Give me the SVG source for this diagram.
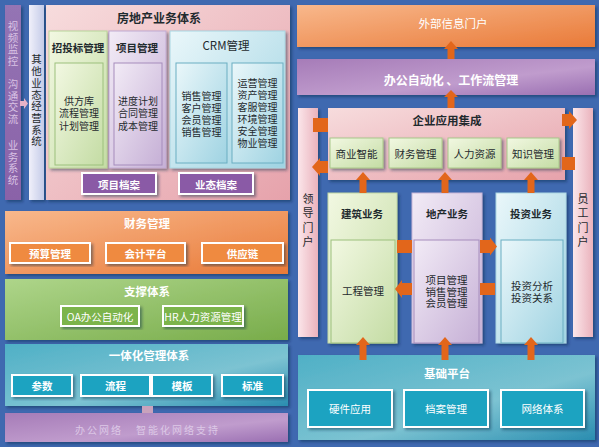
<svg xmlns="http://www.w3.org/2000/svg" width="599" height="447" viewBox="0 0 599 447">
<defs>
<style>
.t{font-family:"Noto Sans CJK SC","Noto Sans",sans-serif;text-anchor:middle;dominant-baseline:central}
.v{font-family:"Noto Sans CJK SC","Noto Sans",sans-serif;writing-mode:vertical-rl;text-anchor:middle}
.b{font-weight:bold}
.d{fill:#1f2a2e}
.w{fill:#fff}
.s11{font-size:11.5px}
.s10{font-size:10.5px}
.s9{font-size:10px}
.s12{font-size:12px}
.btnO{fill:#ef8a3f;stroke:#fff;stroke-width:2}
.btnG{fill:#7cb44b;stroke:#fff;stroke-width:2}
.btnT{fill:#1aa3c1;stroke:#fff;stroke-width:2}
.btnP{fill:#8a5aa6;stroke:#fff;stroke-width:2}
.arr{fill:#e2661b}
</style>
<filter id="sh" x="-10%" y="-10%" width="130%" height="130%"><feDropShadow dx="2" dy="2" stdDeviation="1.5" flood-color="#102040" flood-opacity="0.45"/></filter>
<linearGradient id="gPink" x1="0" y1="0" x2="1" y2="1"><stop offset="0" stop-color="#f7dcdd"/><stop offset="1" stop-color="#e6a2ab"/></linearGradient>
<linearGradient id="gPinkV" x1="0" y1="0" x2="1" y2="0"><stop offset="0" stop-color="#fbe6ea"/><stop offset="1" stop-color="#eab2bc"/></linearGradient>
<linearGradient id="gGreenL" x1="0" y1="0" x2="1" y2="1"><stop offset="0" stop-color="#f2f8e2"/><stop offset="1" stop-color="#c4dca4"/></linearGradient>
<linearGradient id="gPurpL" x1="0" y1="0" x2="1" y2="1"><stop offset="0" stop-color="#f2ebf6"/><stop offset="1" stop-color="#c6b0d6"/></linearGradient>
<linearGradient id="gCyanL" x1="0" y1="0" x2="1" y2="1"><stop offset="0" stop-color="#eaf7fa"/><stop offset="1" stop-color="#9fd3e2"/></linearGradient>
<linearGradient id="gOrange" x1="0" y1="0" x2="1" y2="1"><stop offset="0" stop-color="#f8b88c"/><stop offset="1" stop-color="#e97a38"/></linearGradient>
<linearGradient id="gGreen" x1="0" y1="0" x2="1" y2="1"><stop offset="0" stop-color="#aed58a"/><stop offset="1" stop-color="#78ac4a"/></linearGradient>
<linearGradient id="gTeal" x1="0" y1="0" x2="1" y2="1"><stop offset="0" stop-color="#4fb0c6"/><stop offset="0.6" stop-color="#7cc3d2"/><stop offset="1" stop-color="#2a8db0"/></linearGradient>
<linearGradient id="gPurp" x1="0" y1="0" x2="1" y2="1"><stop offset="0" stop-color="#a67cb8"/><stop offset="0.6" stop-color="#c09ccd"/><stop offset="1" stop-color="#9a6fb2"/></linearGradient>
<linearGradient id="gPurpCol" x1="0" y1="0" x2="0" y2="1"><stop offset="0" stop-color="#9474b4"/><stop offset="1" stop-color="#8a62a8"/></linearGradient>
<linearGradient id="gLav" x1="0" y1="0" x2="1" y2="0"><stop offset="0" stop-color="#f0f0fa"/><stop offset="1" stop-color="#c4cbe8"/></linearGradient>
</defs>
<rect x="0" y="0" width="599" height="447" fill="#3f69b0"/>

<!-- left columns -->
<g id="col-video">
<rect x="5" y="5" width="16" height="195" fill="url(#gPurpCol)" filter="url(#sh)"/>
<text class="v" style="font-size:10.5px;letter-spacing:1.2px" fill="#d9c2e4" x="13" y="44">视频监控</text>
<text class="v" style="font-size:10.5px;letter-spacing:1.2px" fill="#d9c2e4" x="13" y="102">沟通交流</text>
<text class="v" style="font-size:10.5px;letter-spacing:1.2px" fill="#d9c2e4" x="13" y="163">业务系统</text>
</g>
<g id="col-other">
<rect x="29" y="5" width="15" height="195" fill="url(#gLav)" filter="url(#sh)"/>
<text class="v d" style="font-size:10.5px;letter-spacing:1.2px" x="36.5" y="101">其他业态经营系统</text>
</g>

<!-- real estate -->
<g id="realestate">
<rect x="46" y="5" width="244" height="195" fill="url(#gPink)" filter="url(#sh)"/>
<text class="t s12 b d" x="159" y="17">房地产业务体系</text>
</g>
<g id="bidding">
<rect x="49" y="31" width="58" height="137" fill="url(#gGreenL)" stroke="#b8d49a" filter="url(#sh)"/>
<text class="t s10 b d" x="78" y="47">招投标管理</text>
<rect x="55" y="63" width="48" height="102" fill="url(#gGreenL)" stroke="#9cc07c"/>
<text class="t s9 d"><tspan x="79" y="100">供方库</tspan><tspan x="79" y="112">流程管理</tspan><tspan x="79" y="125">计划管理</tspan></text>
</g>
<g id="project">
<rect x="109" y="31" width="57" height="137" fill="url(#gPurpL)" stroke="#c0aad2" filter="url(#sh)"/>
<text class="t s10 b d" x="137" y="47">项目管理</text>
<rect x="114" y="63" width="48" height="102" fill="url(#gPurpL)" stroke="#a58cbc"/>
<text class="t s9 d"><tspan x="138" y="100">进度计划</tspan><tspan x="138" y="112">合同管理</tspan><tspan x="138" y="125">成本管理</tspan></text>
</g>
<g id="crm">
<rect x="170" y="31" width="115" height="137" fill="url(#gCyanL)" stroke="#a8d6e2" filter="url(#sh)"/>
<text class="t s11 d" x="226" y="45">CRM管理</text>
<rect x="176" y="63" width="51" height="100" fill="url(#gCyanL)" stroke="#6aaec2"/>
<text class="t s9 d"><tspan x="201.5" y="95">销售管理</tspan><tspan x="201.5" y="107">客户管理</tspan><tspan x="201.5" y="119">会员管理</tspan><tspan x="201.5" y="131">销售管理</tspan></text>
<rect x="232" y="63" width="51" height="100" fill="url(#gCyanL)" stroke="#6aaec2"/>
<text class="t s9 d"><tspan x="257.5" y="82">运营管理</tspan><tspan x="257.5" y="94">资产管理</tspan><tspan x="257.5" y="106">客服管理</tspan><tspan x="257.5" y="118">环境管理</tspan><tspan x="257.5" y="130">安全管理</tspan><tspan x="257.5" y="142">物业管理</tspan></text>
</g>
<g id="btn-projarch"><rect class="btnP" x="82" y="173" width="74" height="21" filter="url(#sh)"/><text class="t s10 b w" x="119" y="184">项目档案</text></g>
<g id="btn-bizarch"><rect class="btnP" x="179" y="173" width="74" height="21" filter="url(#sh)"/><text class="t s10 b w" x="216" y="184">业态档案</text></g>

<!-- finance -->
<g id="finance">
<rect x="5" y="211" width="283" height="63" fill="url(#gOrange)" filter="url(#sh)"/>
<text class="t s11 b w" x="147" y="223">财务管理</text>
<rect class="btnO" x="10" y="243" width="80" height="20" filter="url(#sh)"/><text class="t s10 b w" x="50" y="253">预算管理</text>
<rect class="btnO" x="106" y="243" width="79" height="20" filter="url(#sh)"/><text class="t s10 b w" x="145.5" y="253">会计平台</text>
<rect class="btnO" x="202" y="243" width="81" height="20" filter="url(#sh)"/><text class="t s10 b w" x="242.5" y="253">供应链</text>
</g>
<g id="support">
<rect x="5" y="279" width="283" height="61" fill="url(#gGreen)" filter="url(#sh)"/>
<text class="t s11 b w" x="147" y="291">支撑体系</text>
<rect class="btnG" x="61" y="306" width="78" height="20" filter="url(#sh)"/><text class="t s10 w" x="100" y="316">OA办公自动化</text>
<rect class="btnG" x="163" y="306" width="80" height="20" filter="url(#sh)"/><text class="t s10 w" x="203" y="316">HR人力资源管理</text>
</g>
<g id="integrated">
<rect x="5" y="344" width="283" height="62" fill="url(#gTeal)" filter="url(#sh)"/>
<text class="t s11 b w" x="149" y="355">一体化管理体系</text>
<rect class="btnT" x="12" y="375" width="60" height="21" filter="url(#sh)"/><text class="t s10 b w" x="42" y="385.5">参数</text>
<rect class="btnT" x="81" y="375" width="69" height="21" filter="url(#sh)"/><text class="t s10 b w" x="115.5" y="385.5">流程</text>
<rect class="btnT" x="152" y="375" width="60" height="21" filter="url(#sh)"/><text class="t s10 b w" x="182" y="385.5">模板</text>
<rect class="btnT" x="222" y="375" width="61" height="21" filter="url(#sh)"/><text class="t s10 b w" x="252.5" y="385.5">标准</text>
</g>
<g id="network">
<rect x="5" y="413" width="283" height="29" fill="url(#gPurp)" filter="url(#sh)"/>
<text class="t" style="font-size:10px;letter-spacing:2px" fill="#dcc8e6"><tspan x="99" y="429">办公网络</tspan><tspan x="178" y="429">智能化网络支持</tspan></text>
</g>

<!-- right side -->
<g id="portal-ext">
<rect x="297" y="5" width="298" height="42" fill="url(#gOrange)" filter="url(#sh)"/>
<text class="t s11 w" x="453" y="23">外部信息门户</text>
</g>
<g id="oa-flow">
<rect x="297" y="59" width="298" height="36" fill="url(#gPurp)" filter="url(#sh)"/>
<text class="t s12 b w" x="451" y="79">办公自动化 、工作流管理</text>
</g>
<g id="leader">
<rect x="298" y="108" width="20" height="229" fill="url(#gPinkV)" filter="url(#sh)"/>
<text class="v d" style="font-size:11px;letter-spacing:3.3px" x="308" y="222">领导门户</text>
</g>
<g id="staff">
<rect x="573" y="108" width="20" height="229" fill="url(#gPinkV)" filter="url(#sh)"/>
<text class="v d" style="font-size:11px;letter-spacing:3.3px" x="583" y="222">员工门户</text>
</g>
<g id="eai">
<rect x="328" y="108" width="237" height="72" fill="url(#gPink)" filter="url(#sh)"/>
<text class="t s11 b d" x="447" y="120">企业应用集成</text>
<rect x="330" y="138" width="53" height="30" fill="url(#gGreenL)" stroke="#a8c88a" filter="url(#sh)"/><text class="t s10 d" x="356.5" y="153">商业智能</text>
<rect x="389" y="138" width="53" height="30" fill="url(#gGreenL)" stroke="#a8c88a" filter="url(#sh)"/><text class="t s10 d" x="415.5" y="153">财务管理</text>
<rect x="448" y="138" width="53" height="30" fill="url(#gGreenL)" stroke="#a8c88a" filter="url(#sh)"/><text class="t s10 d" x="474.5" y="153">人力资源</text>
<rect x="507" y="138" width="52" height="30" fill="url(#gGreenL)" stroke="#a8c88a" filter="url(#sh)"/><text class="t s10 d" x="533" y="153">知识管理</text>
</g>
<g id="construction">
<rect x="328" y="193" width="69" height="150" fill="url(#gGreenL)" stroke="#c0d8a4" filter="url(#sh)"/>
<text class="t s10 b d" x="362" y="213">建筑业务</text>
<rect x="331" y="240" width="64" height="103" fill="url(#gGreenL)" stroke="#9cc07c"/>
<text class="t s10 d" x="363" y="290">工程管理</text>
</g>
<g id="property">
<rect x="412" y="193" width="70" height="150" fill="url(#gPurpL)" stroke="#c8b6d8" filter="url(#sh)"/>
<text class="t s10 b d" x="447" y="213">地产业务</text>
<rect x="414" y="240" width="65" height="103" fill="url(#gPurpL)" stroke="#a58cbc"/>
<text class="t s10 d"><tspan x="446.5" y="279">项目管理</tspan><tspan x="446.5" y="290.5">销售管理</tspan><tspan x="446.5" y="302">会员管理</tspan></text>
</g>
<g id="invest">
<rect x="496" y="193" width="70" height="150" fill="url(#gCyanL)" stroke="#acd8e4" filter="url(#sh)"/>
<text class="t s10 b d" x="531" y="213">投资业务</text>
<rect x="501" y="240" width="62" height="103" fill="url(#gCyanL)" stroke="#6aaec2"/>
<text class="t s10 d"><tspan x="532" y="285">投资分析</tspan><tspan x="532" y="297">投资关系</tspan></text>
</g>
<g id="base">
<rect x="298" y="355" width="297" height="85" fill="url(#gTeal)" filter="url(#sh)"/>
<text class="t s11 b w" x="447" y="373">基础平台</text>
<rect class="btnT" x="308" y="390" width="84" height="37" filter="url(#sh)"/><text class="t s10 w" x="350" y="408.5">硬件应用</text>
<rect class="btnT" x="404" y="390" width="84" height="37" filter="url(#sh)"/><text class="t s10 w" x="446" y="408.5">档案管理</text>
<rect class="btnT" x="501" y="390" width="83" height="37" filter="url(#sh)"/><text class="t s10 w" x="542.5" y="408.5">网络体系</text>
</g>

<!-- connectors -->
<g id="connectors">
<polygon fill="#e6b2c8" points="20,101 24,101 24,98 28,103.5 24,109 24,106 20,106"/>
<rect x="142" y="406" width="11" height="7" fill="#c9a2bc"/>
<polygon class="arr" points="451,41 458,49 454.5,49 454.5,59 447.5,59 447.5,49 444,49"/>
<polygon class="arr" points="451,90 458,97 454.5,97 454.5,108 447.5,108 447.5,97 444,97"/>
<polygon class="arr" points="363,172 370,180 366.5,180 366.5,193 359.5,193 359.5,180 356,180"/>
<polygon class="arr" points="445,172 452,180 448.5,180 448.5,193 441.5,193 441.5,180 438,180"/>
<polygon class="arr" points="531,172 538,180 534.5,180 534.5,193 527.5,193 527.5,180 524,180"/>
<polygon class="arr" points="363,337 370,345 366.5,345 366.5,360 359.5,360 359.5,345 356,345"/>
<polygon class="arr" points="445,337 452,345 448.5,345 448.5,360 441.5,360 441.5,345 438,345"/>
<polygon class="arr" points="531,337 538,345 534.5,345 534.5,360 527.5,360 527.5,345 524,345"/>
<rect class="arr" x="313" y="118" width="15" height="14"/>
<polygon class="arr" points="312,167 320,158 320,161 328,161 328,173 320,173 320,176"/>
<polygon class="arr" points="577,120 569,111 569,114 562,114 562,126 569,126 569,129"/>
<rect class="arr" x="562" y="157" width="13" height="13"/>
<rect class="arr" x="397" y="240" width="15" height="13"/>
<polygon class="arr" points="395,289 402,280 402,283 412,283 412,295 402,295 402,298"/>
<polygon class="arr" points="497,246.5 490,237.5 490,240 480,240 480,253 490,253 490,255.5"/>
<rect class="arr" x="480" y="283" width="15" height="12"/>
</g>
</svg>
